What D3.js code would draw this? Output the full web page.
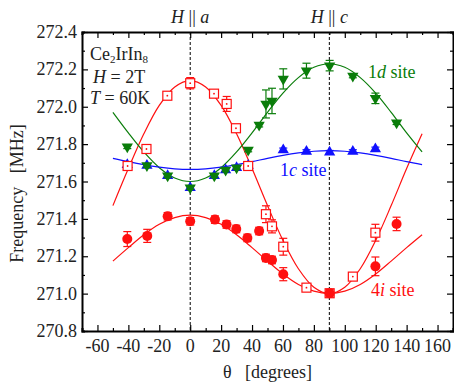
<!DOCTYPE html>
<html>
<head>
<meta charset="utf-8">
<script src="https://cdn.jsdelivr.net/npm/d3@7"></script>
<style>
  body { margin: 0; background: #fff; }
  text { font-family: "Liberation Serif", "DejaVu Serif", "Times New Roman", serif; fill: #222; }
</style>
</head>
<body>
<div class="chart"></div>
<script>
//Width and height
const w = 454;
const h = 388;
const margin = { top: 32, right: 1, bottom: 57, left: 82 };

// 4i site, open squares
const sqAngle = [-40.5, -28.3, -14.8, 0, 15.4, 23.6, 29.6, 37.5, 49, 52.9, 60.2, 75.2, 90.2, 105.2, 119.8];
const sqFreq = [271.683, 271.774, 272.059, 272.126, 272.07, 272.015, 271.885, 271.683, 271.425, 271.36, 271.251, 271.032, 271.002, 271.091, 271.326];
const sqErr = [0.015, 0.015, 0.01, 0.03, 0.01, 0.04, 0.01, 0.015, 0.045, 0.035, 0.045, 0.015, 0.015, 0.015, 0.045];

// 4i site, filled circles
const ciAngle = [-40.7, -27.8, -14.6, 0, 16, 23.5, 29.8, 37, 44.6, 49, 52.9, 60.2, 90.2, 119.8, 133.5];
const ciFreq = [271.292, 271.309, 271.414, 271.387, 271.396, 271.37, 271.346, 271.298, 271.335, 271.191, 271.18, 271.104, 271.002, 271.146, 271.373];
const ciErr = [0.04, 0.035, 0.02, 0.02, 0.02, 0.02, 0.02, 0.02, 0.02, 0.02, 0.02, 0.035, 0.02, 0.05, 0.036];

// 1d site, green down triangles
const dnAngle = [-40.7, -28, -14.6, 0, 15.6, 22.9, 30, 37.5, 44.6, 49, 52.9, 60.2, 75.2, 90.2, 105.2, 119.8, 133.5];
const dnFreq = [271.786, 271.685, 271.631, 271.567, 271.631, 271.662, 271.674, 271.769, 271.902, 272.015, 272.031, 272.149, 272.193, 272.22, 272.165, 272.045, 271.915];
const dnErr = [0.01, 0.01, 0.01, 0.01, 0.01, 0.01, 0.01, 0.01, 0.01, 0.075, 0.068, 0.054, 0.04, 0.028, 0.01, 0.028, 0.01];

// 1c site, blue up triangles
const upAngle = [-40.7, -28, -14.6, 0, 15.6, 22.9, 30, 37.5, 60.2, 75.2, 90.2, 105.2, 119.8];
const upFreq = [271.69, 271.685, 271.631, 271.567, 271.631, 271.662, 271.674, 271.685, 271.769, 271.76, 271.756, 271.76, 271.774];

const fitAngle = [-50, -40, -30, -20, -10, 0, 10, 20, 30, 40, 50, 60, 70, 80, 90, 100, 110, 120, 130, 140, 150];
const fitSquare = [271.471, 271.669, 271.855, 272.007, 272.106, 272.14, 272.106, 272.007, 271.855, 271.669, 271.471, 271.285, 271.133, 271.034, 271.0, 271.034, 271.133, 271.285, 271.471, 271.669, 271.855];
const fitCircle = [271.174, 271.246, 271.315, 271.371, 271.407, 271.42, 271.407, 271.371, 271.315, 271.246, 271.174, 271.105, 271.049, 271.013, 271.0, 271.013, 271.049, 271.105, 271.174, 271.246, 271.315];
const fitDown = [271.97, 271.86, 271.758, 271.674, 271.619, 271.6, 271.619, 271.674, 271.758, 271.86, 271.97, 272.073, 272.156, 272.211, 272.23, 272.211, 272.156, 272.073, 271.97, 271.86, 271.758];
const fitUp = [271.724, 271.706, 271.69, 271.677, 271.668, 271.665, 271.668, 271.677, 271.69, 271.706, 271.724, 271.74, 271.753, 271.762, 271.765, 271.762, 271.753, 271.74, 271.724, 271.706, 271.69];

// axis ticks
const xTickLabels = [-60, -40, -20, 0, 20, 40, 60, 80, 100, 120, 140, 160];
const yTickLabels = [270.8, 271.0, 271.2, 271.4, 271.6, 271.8, 272.0, 272.2, 272.4];
const guideAngles = [0, 90];

const red = "#ff1010";
const green = "#0a7d0a";
const blue = "#1010ff";

const svg = d3
  .select(".chart")
  .append("svg")
  .attr("width", w)
  .attr("height", h);

const x = d3.scaleLinear().domain([-70, 170]).range([margin.left, w - margin.right]);
const y = d3.scaleLinear().domain([270.8, 272.4]).range([h - margin.bottom, margin.top]);

const x0 = x.range()[0], x1 = x.range()[1];
const y0 = y.range()[0], y1 = y.range()[1];

// dashed guides
svg
  .selectAll(".guide")
  .data(guideAngles)
  .enter()
  .append("line")
  .attr("x1", (d) => x(d))
  .attr("x2", (d) => x(d))
  .attr("y1", y1)
  .attr("y2", y0)
  .attr("stroke", "#000")
  .attr("stroke-width", 1)
  .attr("stroke-dasharray", "3,2");

// axes, ticks pointing inwards
const xMinor = d3.range(-70, 171, 10);
const yMinor = d3.range(0, 17).map((i) => 270.8 + i * 0.1);

const bottomAxis = d3.axisBottom(x).tickValues(xMinor).tickSize(-3).tickFormat("");
const topAxis = d3.axisTop(x).tickValues(xMinor).tickSize(-3).tickFormat("");
const leftAxis = d3.axisLeft(y).tickValues(yMinor).tickSize(-3).tickFormat("");
const rightAxis = d3.axisRight(y).tickValues(yMinor).tickSize(-3).tickFormat("");

const gB = svg.append("g").attr("transform", `translate(0,${y0})`).call(bottomAxis);
const gT = svg.append("g").attr("transform", `translate(0,${y1})`).call(topAxis);
const gL = svg.append("g").attr("transform", `translate(${x0},0)`).call(leftAxis);
const gR = svg.append("g").attr("transform", `translate(${x1},0)`).call(rightAxis);

// make major ticks longer
gB.selectAll(".tick line").attr("y2", (d) => (xTickLabels.includes(d) ? -6 : -3));
gT.selectAll(".tick line").attr("y2", (d) => (xTickLabels.includes(d) ? 6 : 3));
const isMajorY = (d) => yTickLabels.some((v) => Math.abs(v - d) < 1e-6);
gL.selectAll(".tick line").attr("x2", (d) => (isMajorY(d) ? 6 : 3));
gR.selectAll(".tick line").attr("x2", (d) => (isMajorY(d) ? -6 : -3));

[gB, gT, gL, gR].forEach((g) => {
  g.select(".domain").attr("stroke", "#000").attr("stroke-width", 2);
  g.selectAll(".tick line").attr("stroke", "#000").attr("stroke-width", 1.2);
});

// tick labels
svg
  .selectAll(".xlab")
  .data(xTickLabels)
  .enter()
  .append("text")
  .attr("x", (d) => x(d))
  .attr("y", y0 + 21)
  .attr("text-anchor", "middle")
  .style("font-size", "18px")
  .text((d) => d);

svg
  .selectAll(".ylab")
  .data(yTickLabels)
  .enter()
  .append("text")
  .attr("x", x0 - 5)
  .attr("y", (d) => y(d) + 6)
  .attr("text-anchor", "end")
  .style("font-size", "18px")
  .text((d) => d.toFixed(1));

// axis titles
svg
  .append("text")
  .attr("x", (x0 + x1) / 2)
  .attr("y", 378)
  .attr("text-anchor", "middle")
  .style("font-size", "18px")
  .style("white-space", "pre")
  .text("θ   [degrees]");

svg
  .append("text")
  .attr("transform", `translate(23,${(y0 + y1) / 2 + 12}) rotate(-90)`)
  .attr("text-anchor", "middle")
  .style("font-size", "18px")
  .style("white-space", "pre")
  .text("Frequency   [MHz]");

// H || a , H || c
const topLab = svg
  .selectAll(".toplab")
  .data([["a", 0], ["c", 90]])
  .enter()
  .append("text")
  .attr("x", (d) => x(d[1]))
  .attr("y", 23)
  .attr("text-anchor", "middle")
  .style("font-size", "18px");
topLab.append("tspan").style("font-style", "italic").text("H");
topLab.append("tspan").style("white-space", "pre").text(" || ");
topLab.append("tspan").style("font-style", "italic").text((d) => d[0]);

// sample info
const info = svg.append("text").attr("x", 90).attr("y", 60).style("font-size", "18px");
info.append("tspan").text("Ce");
info.append("tspan").attr("dy", 3).style("font-size", "11px").text("2");
info.append("tspan").attr("dy", -3).text("IrIn");
info.append("tspan").attr("dy", 3).style("font-size", "11px").text("8");

const fieldT = svg.append("text").attr("x", 93).attr("y", 83).style("font-size", "18px");
fieldT.append("tspan").style("font-style", "italic").text("H");
fieldT.append("tspan").text(" = 2T");

const tempT = svg.append("text").attr("x", 90).attr("y", 104).style("font-size", "18px");
tempT.append("tspan").style("font-style", "italic").text("T");
tempT.append("tspan").text(" = 60K");

// fit lines
const line = d3
  .line()
  .x((d) => x(d[0]))
  .y((d) => y(d[1]))
  .curve(d3.curveCatmullRom);

const fits = [
  [fitSquare, red],
  [fitCircle, red],
  [fitDown, green],
  [fitUp, blue],
];
fits.forEach(([vals, col]) => {
  svg
    .append("path")
    .datum(fitAngle.map((a, i) => [a, vals[i]]))
    .attr("d", line)
    .attr("fill", "none")
    .attr("stroke", col)
    .attr("stroke-width", 1.2);
});

// error bars helper
const drawErr = (angles, freqs, errs, col) => {
  const g = svg.append("g").attr("stroke", col).attr("stroke-width", 1.2);
  angles.forEach((a, i) => {
    const cx = x(a);
    const ya = y(freqs[i] + errs[i]);
    const yb = y(freqs[i] - errs[i]);
    g.append("line").attr("x1", cx).attr("x2", cx).attr("y1", ya).attr("y2", yb);
    g.append("line").attr("x1", cx - 4).attr("x2", cx + 4).attr("y1", ya).attr("y2", ya);
    g.append("line").attr("x1", cx - 4).attr("x2", cx + 4).attr("y1", yb).attr("y2", yb);
  });
};

// blue up triangles
drawErr(upAngle, upFreq, upAngle.map(() => 0.01), blue);
svg
  .selectAll(".up")
  .data(upAngle.map((a, i) => [a, upFreq[i]]))
  .enter()
  .append("path")
  .attr("d", d3.symbol().type(d3.symbolTriangle).size(55))
  .attr("transform", (d) => `translate(${x(d[0])},${y(d[1])})`)
  .attr("fill", blue);

// green down triangles
drawErr(dnAngle, dnFreq, dnErr, green);
svg
  .selectAll(".dn")
  .data(dnAngle.map((a, i) => [a, dnFreq[i]]))
  .enter()
  .append("path")
  .attr("d", d3.symbol().type(d3.symbolTriangle).size(55))
  .attr("transform", (d) => `translate(${x(d[0])},${y(d[1])}) rotate(180)`)
  .attr("fill", green);

// red open squares
drawErr(sqAngle, sqFreq, sqErr, red);
const sq = svg
  .selectAll(".sq")
  .data(sqAngle.map((a, i) => [a, sqFreq[i]]))
  .enter()
  .append("g")
  .attr("transform", (d) => `translate(${x(d[0])},${y(d[1])})`);
sq.append("rect")
  .attr("x", -4.5)
  .attr("y", -4.5)
  .attr("width", 9)
  .attr("height", 9)
  .attr("fill", "#fff")
  .attr("stroke", red)
  .attr("stroke-width", 1.2);
sq.append("circle").attr("r", 0.9).attr("fill", red);

// red filled circles
drawErr(ciAngle, ciFreq, ciErr, red);
svg
  .selectAll(".ci")
  .data(ciAngle.map((a, i) => [a, ciFreq[i]]))
  .enter()
  .append("circle")
  .attr("cx", (d) => x(d[0]))
  .attr("cy", (d) => y(d[1]))
  .attr("r", 5)
  .attr("fill", red);

// site labels
const siteLabels = [
  ["1", "d", " site", 368, 78, green],
  ["1", "c", " site", 280, 176, blue],
  ["4", "i", " site", 371, 296, red],
];
siteLabels.forEach(([a, b, c, lx, ly, col]) => {
  const t = svg.append("text").attr("x", lx).attr("y", ly).style("font-size", "18px").style("fill", col);
  t.append("tspan").text(a);
  t.append("tspan").style("font-style", "italic").text(b);
  t.append("tspan").text(c);
});
</script>
</body>
</html>
